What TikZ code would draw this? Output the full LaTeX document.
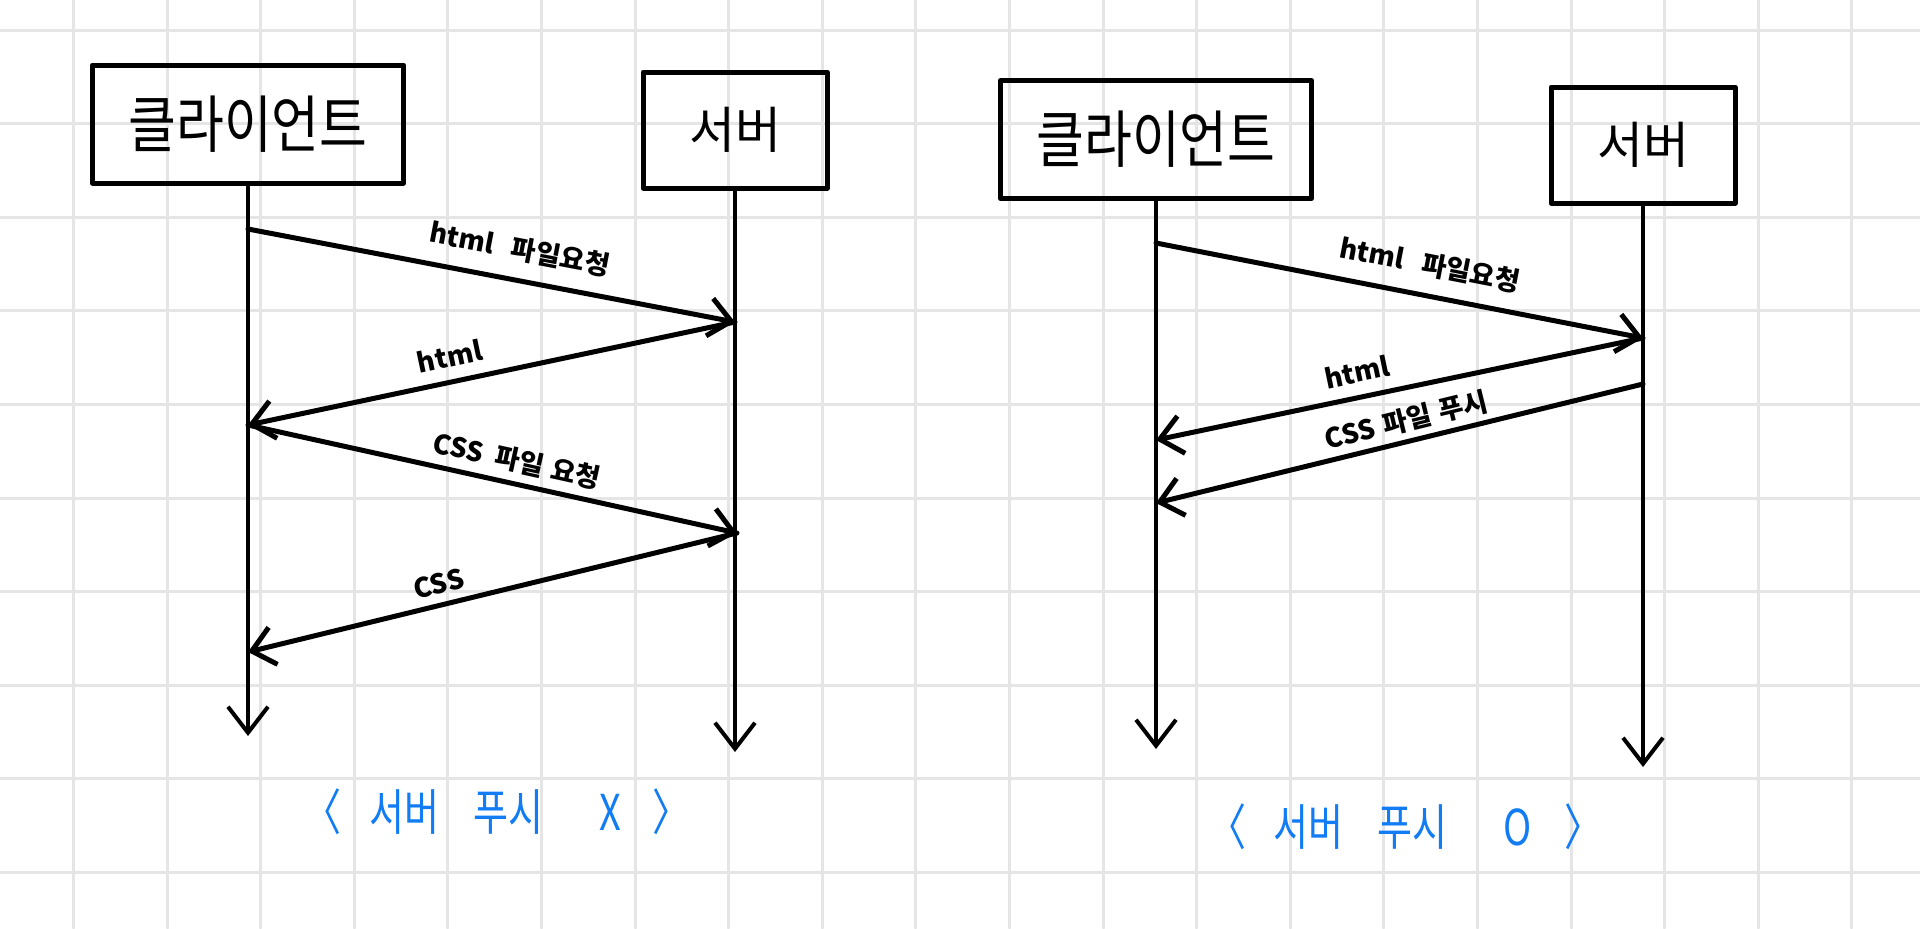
\documentclass[tikz,border=0pt]{standalone}
\usepackage{fontspec}
\usepackage{graphicx}
\setmainfont{Noto Sans CJK KR}
\usetikzlibrary{arrows.meta}
\definecolor{gridc}{RGB}{229,229,229}
\definecolor{capblue}{RGB}{18,124,245}
\tikzset{
  actor/.style={draw, line width=2.5pt, inner sep=0pt},
  client/.style={actor, minimum width=155.5pt, minimum height=59pt, font=\fontsize{26}{30}\selectfont},
  server/.style={actor, minimum width=92pt, minimum height=58pt, font=\fontsize{25}{30}\selectfont},
  lifeline/.style={line width=2pt, -{Straight Barb[length=13pt,width=20pt,line width=2pt]}},
  msg/.style={line width=2.5pt, -{Straight Barb[length=11pt,width=19pt,line width=2.5pt]}},
  lbl/.style={font=\fontsize{13.5}{15}\selectfont\bfseries, sloped, above, inner sep=2pt},
  capt/.style={text=capblue, font=\fontsize{19}{23}\selectfont, inner sep=0pt},
  gridline/.style={gridc, line width=1.5pt}
}
\begin{document}
\begin{tikzpicture}[x=0.5pt, y=-0.5pt, line cap=round, line join=round]
\fill[white] (0,0) rectangle (1920,928);
\useasboundingbox (0,0) rectangle (1920,928);
\foreach \i in {0,...,19} \draw[gridline] ({73.5+93.6*\i},0) -- ({73.5+93.6*\i},928);
\foreach \j in {0,...,9} \draw[gridline] (0,{30+93.6*\j}) -- (1920,{30+93.6*\j});

% ---------- left diagram ----------
\node[client] (lc) at (248,124) {\scalebox{1}[1.2]{클라이언트}};
\node[server] (ls) at (735,130) {서버};
\coordinate (lcend) at (248,736);
\coordinate (lsend) at (735,752);
\draw[lifeline] (lc.south) -- (lcend);
\draw[lifeline] (ls.south) -- (lsend);
\coordinate (a1) at (248,229);
\coordinate (b1) at (735,322);
\coordinate (a2) at (248,425);
\coordinate (b2) at (737,533);
\coordinate (a3) at (248,652);
\draw[msg] (a1) -- node[lbl, pos=0.546, above=6pt] (l1) {html\hspace{9pt}파일요청} (b1);
\draw[msg] (b1) -- node[lbl, pos=0.575, above=4pt] (l2) {html} (a2);
\draw[msg] (a2) -- node[lbl, pos=0.54, above=2pt] (l3) {CSS\hspace{6pt}파일\hspace{4pt}요청} (b2);
\draw[msg] (b2) -- node[lbl, pos=0.60, above=2pt] (l4) {CSS} (a3);
\node[capt] (lcap) at (497,812) {\scalebox{1}[1.3]{〈\hspace{14pt}서버\hspace{17pt}푸시\hspace{28pt}X\hspace{16pt}〉}};

% ---------- right diagram ----------
\node[client] (rc) at (1156,139.5) {\scalebox{1}[1.2]{클라이언트}};
\node[server] (rs) at (1643,145) {서버};
\coordinate (rcend) at (1156,749);
\coordinate (rsend) at (1643,767);
\draw[lifeline] (rc.south) -- (rcend);
\draw[lifeline] (rs.south) -- (rsend);
\coordinate (c1) at (1156,243);
\coordinate (d1) at (1643,338);
\coordinate (c2) at (1156,440);
\coordinate (d2) at (1643,384);
\coordinate (c3) at (1156,503);
\draw[msg] (c1) -- node[lbl, pos=0.55, above=6pt] (r1) {html\hspace{9pt}파일요청} (d1);
\draw[msg] (d1) -- node[lbl, pos=0.577, above=4pt] (r2) {html} (c2);
\draw[msg] (d2) -- node[lbl, pos=0.476, above=1pt] (r3) {CSS\hspace{4pt}파일\hspace{4pt}푸시} (c3);
\node[capt] (rcap) at (1405,827) {\scalebox{1}[1.3]{〈\hspace{14pt}서버\hspace{17pt}푸시\hspace{28pt}O\hspace{16pt}〉}};
\end{tikzpicture}
\end{document}
